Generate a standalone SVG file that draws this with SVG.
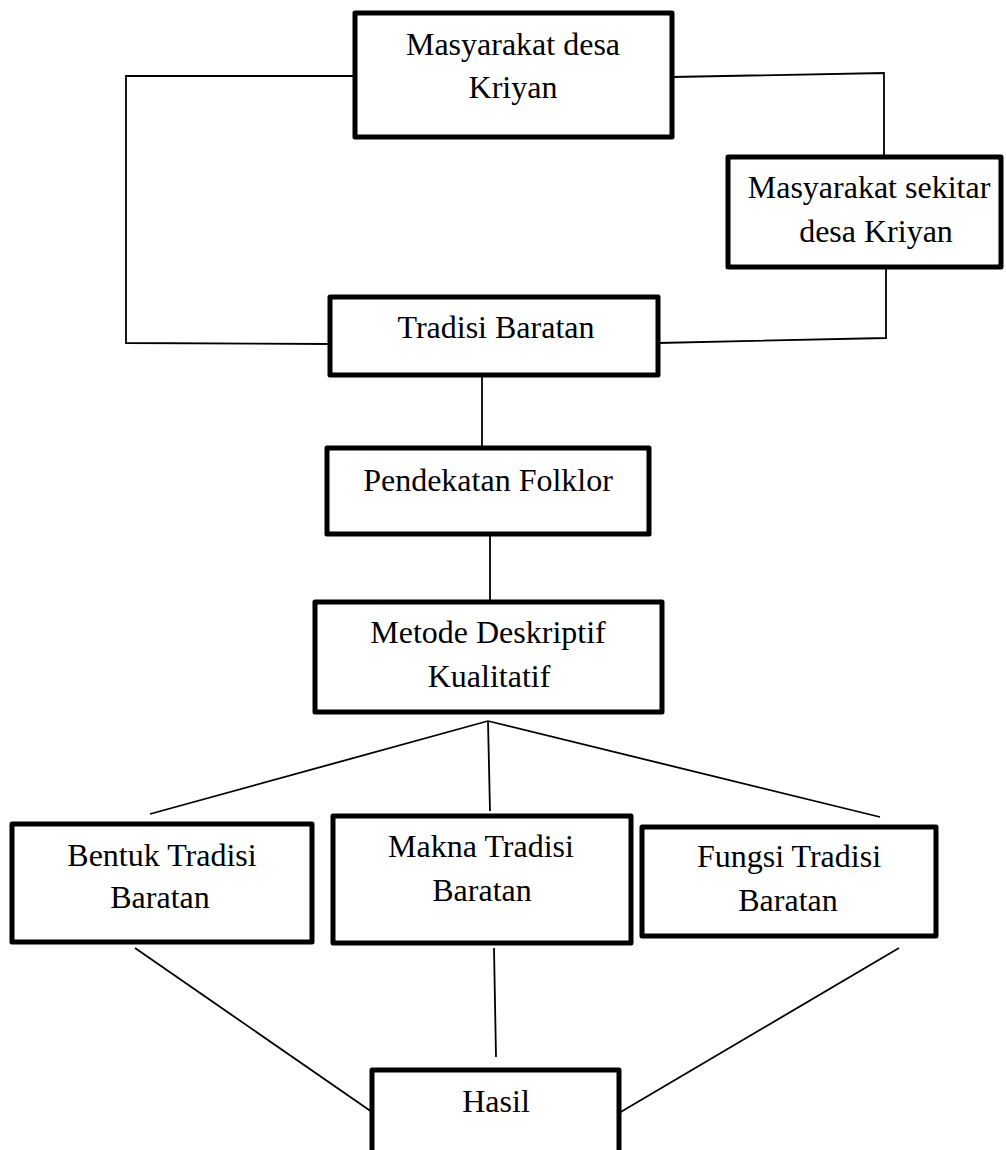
<svg xmlns="http://www.w3.org/2000/svg" width="1006" height="1150" viewBox="0 0 1006 1150">
<style>
.box{fill:#fff;stroke:#000;stroke-width:5;stroke-linejoin:round}
.lbl{font-family:"Liberation Serif","Times New Roman",serif;font-size:32px;fill:#000;text-anchor:middle}
.con{fill:none;stroke:#000;stroke-width:1.8}
</style>
<rect x="0" y="0" width="1006" height="1150" fill="#fff"/>
<g id="connectors">
<polyline class="con" points="355,76 126,76 126,343 330,344"/>
<polyline class="con" points="672,77 884,73 884,157"/>
<polyline class="con" points="886,267 886,338 658,343"/>
<line class="con" x1="482" y1="375" x2="482" y2="448"/>
<line class="con" x1="490" y1="534" x2="490" y2="602"/>
<line class="con" x1="488" y1="721" x2="150" y2="814"/>
<line class="con" x1="488" y1="721" x2="490" y2="811"/>
<line class="con" x1="488" y1="721" x2="880" y2="817"/>
<line class="con" x1="135" y1="948" x2="372" y2="1112"/>
<line class="con" x1="494" y1="948" x2="496" y2="1057"/>
<line class="con" x1="899" y1="948" x2="619" y2="1113"/>
</g>
<g id="node-masyarakat-desa">
<rect class="box" x="355" y="13" width="317" height="124"/>
<text class="lbl" x="513" y="55">Masyarakat desa</text>
<text class="lbl" x="513" y="98">Kriyan</text>
</g>
<g id="node-masyarakat-sekitar">
<rect class="box" x="728" y="157" width="273" height="110"/>
<text class="lbl" x="869" y="198">Masyarakat sekitar</text>
<text class="lbl" x="876" y="242">desa Kriyan</text>
</g>
<g id="node-tradisi">
<rect class="box" x="330" y="297" width="328" height="78"/>
<text class="lbl" x="496" y="338">Tradisi Baratan</text>
</g>
<g id="node-pendekatan">
<rect class="box" x="327" y="448" width="322" height="86"/>
<text class="lbl" x="488" y="491">Pendekatan Folklor</text>
</g>
<g id="node-metode">
<rect class="box" x="315" y="602" width="347" height="110"/>
<text class="lbl" x="488" y="643">Metode Deskriptif</text>
<text class="lbl" x="489" y="687">Kualitatif</text>
</g>
<g id="node-bentuk">
<rect class="box" x="12" y="824" width="300" height="118"/>
<text class="lbl" x="162" y="866">Bentuk Tradisi</text>
<text class="lbl" x="160" y="908">Baratan</text>
</g>
<g id="node-makna">
<rect class="box" x="333" y="816" width="298" height="127"/>
<text class="lbl" x="481" y="857">Makna Tradisi</text>
<text class="lbl" x="482" y="901">Baratan</text>
</g>
<g id="node-fungsi">
<rect class="box" x="642" y="827" width="294" height="109"/>
<text class="lbl" x="789" y="867">Fungsi Tradisi</text>
<text class="lbl" x="788" y="911">Baratan</text>
</g>
<g id="node-hasil">
<rect class="box" x="372" y="1070" width="247" height="100"/>
<text class="lbl" x="496" y="1112">Hasil</text>
</g>
</svg>
